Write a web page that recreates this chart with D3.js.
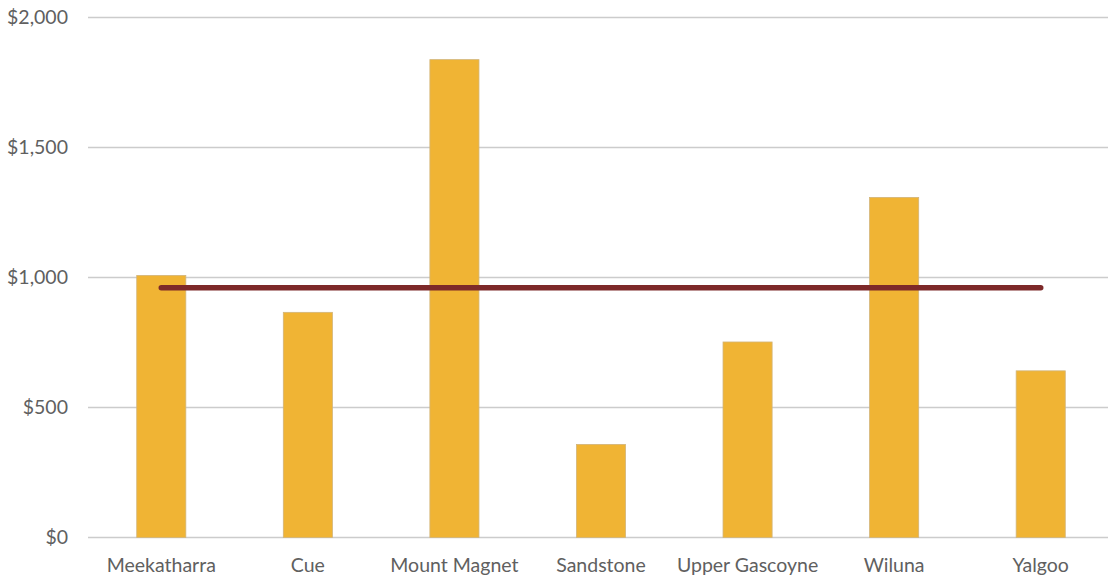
<!DOCTYPE html>
<html>
<head>
<meta charset="utf-8">
<script src="https://cdn.jsdelivr.net/npm/d3@7"></script>
<style>
  html, body { margin: 0; padding: 0; background: #fff; }
  svg { display: block; }
  text { font-family: Lato, "Open Sans", sans-serif; fill: #606060; }
</style>
</head>
<body>
<svg id="chart" width="1108" height="577"></svg>
<script>
// Shire names along the x axis
const shires = ["Meekatharra", "Cue", "Mount Magnet", "Sandstone", "Upper Gascoyne", "Wiluna", "Yalgoo"];
// Dollar value per shire (bars)
const shireValues = [1008, 866, 1838, 358, 752, 1308, 641];
// Regional average drawn as a single line across all shires
const averageValue = 961;
const averageLine = shires.map(s => ({ shire: s, value: averageValue }));
// Y axis ticks
const yTicks = [0, 500, 1000, 1500, 2000];

const svg = d3.select("#chart");
const plotLeft = 88, plotRight = 1114, plotTop = 17.5, plotBottom = 537.5;

const x = d3.scaleBand()
  .domain(shires)
  .range([plotLeft, plotRight])
  .paddingInner(0.665)
  .paddingOuter(0.3325);

const y = d3.scaleLinear().domain([0, 2000]).range([plotBottom, plotTop]);

// Horizontal gridlines
svg.append("g")
  .selectAll("line")
  .data(yTicks)
  .join("line")
  .attr("x1", plotLeft)
  .attr("x2", 1108)
  .attr("y1", d => y(d))
  .attr("y2", d => y(d))
  .attr("stroke", "#cccccc")
  .attr("stroke-width", 1.7);

// Y axis labels
const fmt = d3.format("$,");
svg.append("g")
  .selectAll("text")
  .data(yTicks)
  .join("text")
  .attr("x", 68)
  .attr("y", d => y(d))
  .attr("dy", "0.35em")
  .attr("text-anchor", "end")
  .attr("font-size", 19.5)
  .text(d => fmt(d));

// Bars
svg.append("g")
  .selectAll("rect")
  .data(shires.map((s, i) => ({ shire: s, value: shireValues[i] })))
  .join("rect")
  .attr("x", d => x(d.shire))
  .attr("width", x.bandwidth())
  .attr("y", d => y(d.value))
  .attr("height", d => y(0) - y(d.value))
  .attr("fill", "#F0B434")
  .attr("stroke", "#d2b57a")
  .attr("stroke-width", 0.8);

// Average line
const line = d3.line()
  .x(d => x(d.shire) + x.bandwidth() / 2)
  .y(d => y(d.value));

svg.append("path")
  .datum(averageLine)
  .attr("d", line)
  .attr("fill", "none")
  .attr("stroke", "#7D2929")
  .attr("stroke-width", 5.5)
  .attr("stroke-linecap", "round");

// X axis labels
svg.append("g")
  .selectAll("text")
  .data(shires)
  .join("text")
  .attr("x", d => x(d) + x.bandwidth() / 2)
  .attr("y", 572)
  .attr("text-anchor", "middle")
  .attr("font-size", 19.5)
  .text(d => d);
</script>
</body>
</html>
